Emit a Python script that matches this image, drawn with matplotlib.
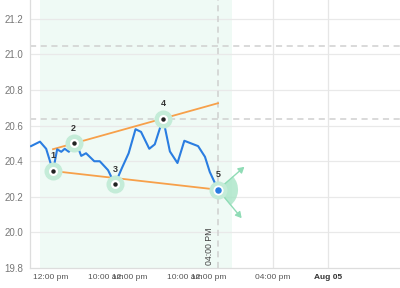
import matplotlib
matplotlib.use("Agg")
import matplotlib.pyplot as plt
from matplotlib.patches import Wedge
from matplotlib.transforms import ScaledTranslation

plt.rcParams['font.family'] = ['Liberation Sans', 'DejaVu Sans']

# hours relative to Aug 05 00:00 (compressed session axis)
hours = [-43.2, -41.9, -41.0, -40.0, -39.4, -38.8, -38.3, -37.7, -37.0, -36.4,
         -35.9, -35.2, -34.0, -33.2, -32.0, -31.0, -30.0, -29.0, -28.0, -27.2,
         -26.0, -25.2, -24.0, -23.0, -21.9, -20.9, -19.9, -18.9, -17.9, -17.2,
         -16.0]
price = [20.485, 20.51, 20.47, 20.345, 20.467, 20.453, 20.47, 20.453, 20.50, 20.48,
         20.43, 20.445, 20.40, 20.40, 20.35, 20.27, 20.36, 20.445, 20.58, 20.565,
         20.47, 20.495, 20.64, 20.455, 20.39, 20.515, 20.50, 20.485, 20.425, 20.34,
         20.24]
pattern_idx = [3, 8, 15, 22, 30]
pattern_names = ['1', '2', '3', '4', '5']

levels = [21.05, 20.64]
shade_span = (-41.9, -13.9)
tick_pos = [-40.4, -32.4, -28.9, -20.8, -17.4, -8.0, 0.0]
tick_labels = ['12:00 pm', '10:00 am', '12:00 pm', '10:00 am', '12:00 pm', '04:00 pm', 'Aug 05']
grid_x = [-8.0, 0.0]
y_ticks = [19.8, 20.0, 20.2, 20.4, 20.6, 20.8, 21.0, 21.2]

BLUE = '#2a7de1'
ORANGE = '#f7a04a'
MINT = '#c4ecd8'

fig = plt.figure(figsize=(4, 2.88), dpi=100)
ax = fig.add_axes([0.075, 0.0694, 0.925, 0.9306])
ax.set_xlim(-43.35, 10.47)
ax.set_ylim(19.8, 21.306)

ax.axvspan(shade_span[0], shade_span[1], color='#effaf5', zorder=0, lw=0)
for y in y_ticks[1:]:
    ax.axhline(y, color='#e9e9e9', lw=0.9, zorder=1)
for x in grid_x:
    ax.axvline(x, color='#e6e6e6', lw=0.9, zorder=1)
for lv in levels:
    ax.axhline(lv, color='#cfcfcf', lw=1.1, ls=(0, (4, 3)), zorder=2)

px = [hours[i] for i in pattern_idx]
py = [price[i] for i in pattern_idx]
ax.axvline(px[4], color='#cfcfcf', lw=1.1, ls=(0, (4, 3)), zorder=2)

# pattern trend lines
slope = (py[3] - py[1]) / (px[3] - px[1])
upper = [py[1] + slope * (px[0] - px[1]), py[1] + slope * (px[4] - px[1])]
ax.plot([px[0], px[4]], upper, color=ORANGE, lw=1.3, zorder=3)
ax.plot([px[0], px[4]], [py[0], py[4]], color=ORANGE, lw=1.3, zorder=3)

ax.plot(hours, price, color=BLUE, lw=1.5, zorder=4)

# direction wedge and arrows at last point
tr = fig.dpi_scale_trans + ScaledTranslation(px[4], py[4], ax.transData)
ax.add_patch(Wedge((0, 0), 0.2, -52, 42, transform=tr, color='#a9e5c7', alpha=0.8, lw=0, zorder=3))
for dx, dy in [(19, 16.5), (17, -20.5)]:
    ax.annotate('', xy=(px[4], py[4]), xytext=(dx, dy), textcoords='offset points',
                arrowprops=dict(arrowstyle='<|-,head_length=0.35,head_width=0.2',
                                color='#90dcb6', lw=1, shrinkA=0, shrinkB=0), zorder=3)

ax.plot(px, py, 'o', ms=13, color=MINT, mec='none', zorder=5)
ax.plot(px[:4], py[:4], 'o', ms=6.5, color='white', mec='none', zorder=6)
ax.plot(px[:4], py[:4], 'o', ms=3.2, color='#222222', mec='none', zorder=7)
ax.plot(px[4], py[4], 'o', ms=6, color=BLUE, mec='white', mew=1.3, zorder=7)
for name, x, y in zip(pattern_names, px, py):
    ax.annotate(name, xy=(x, y), xytext=(0, 11), textcoords='offset points',
                ha='center', va='center', fontsize=6.5, fontweight='bold', color='#333333', zorder=8)

ax.annotate('04:00 PM', xy=(px[4], 19.8), xytext=(-6, 2), textcoords='offset points',
            rotation=90, ha='center', va='bottom', fontsize=6.3, color='#444444')

ax.set_yticks(y_ticks)
ax.set_yticklabels([f'{v:.1f}' for v in y_ticks])
ax.set_xticks(tick_pos)
ax.set_xticklabels(tick_labels)
ax.tick_params(axis='y', length=0, pad=5, labelsize=7, labelcolor='#777777')
ax.tick_params(axis='x', length=0, pad=4, labelsize=6, labelcolor='#555555')
ax.get_xticklabels()[-1].set_fontweight('bold')
ax.get_xticklabels()[-1].set_color('#333333')

for s in ['top', 'right']:
    ax.spines[s].set_visible(False)
for s in ['left', 'bottom']:
    ax.spines[s].set_color('#dddddd')
    ax.spines[s].set_linewidth(0.9)

fig.savefig('out.png', dpi=100)
